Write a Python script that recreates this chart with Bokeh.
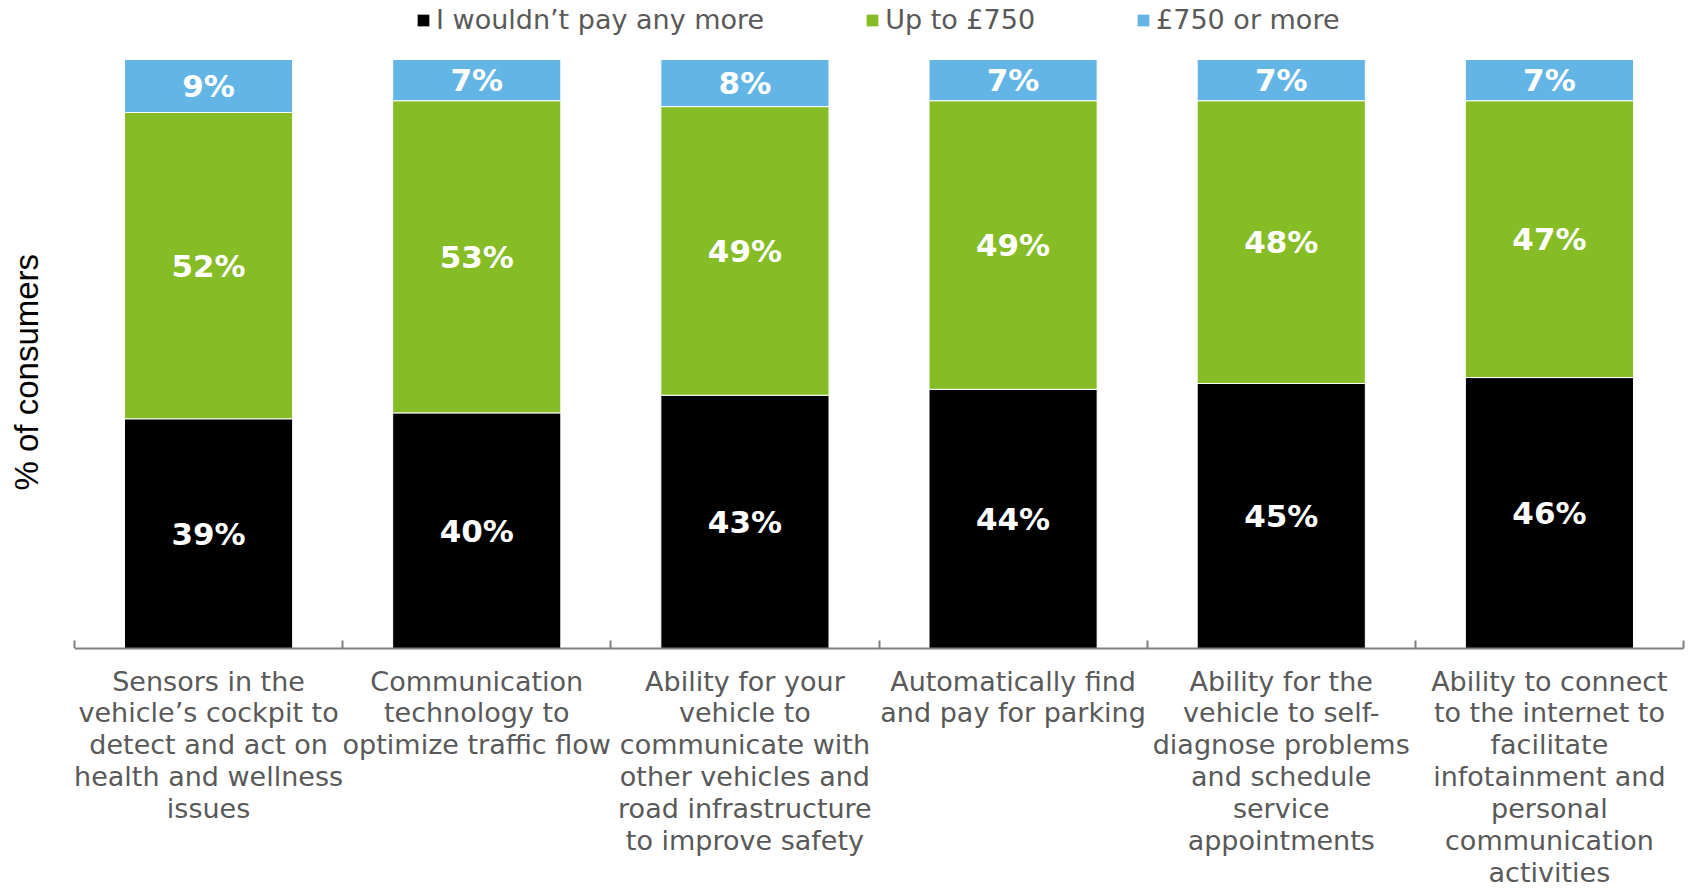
import numpy as np
from bokeh.plotting import figure
from bokeh.models import ColumnDataSource, Range1d, FixedTicker, Legend, LegendItem, Title
from bokeh.core.properties import value
from bokeh.embed import file_html
from bokeh.resources import INLINE

categories = [
    "Sensors in the\nvehicle\u2019s cockpit to\ndetect and act on\nhealth and wellness\nissues",
    "Communication\ntechnology to\noptimize traffic flow",
    "Ability for your\nvehicle to\ncommunicate with\nother vehicles and\nroad infrastructure\nto improve safety",
    "Automatically find\nand pay for parking",
    "Ability for the\nvehicle to self-\ndiagnose problems\nand schedule\nservice\nappointments",
    "Ability to connect\nto the internet to\nfacilitate\ninfotainment and\npersonal\ncommunication\nactivities",
]
no_more = [39, 40, 43, 44, 45, 46]
up_to_750 = [52, 53, 49, 49, 48, 47]
over_750 = [9, 7, 8, 7, 7, 7]
series_names = ["I wouldn\u2019t pay any more", "Up to \u00a3750", "\u00a3750 or more"]
colors = ["#000000", "#86BC25", "#62B5E5"]
y_title = "% of consumers"

n = len(categories)
xc = np.arange(n) + 0.5
a = np.array(no_more, dtype=float)
b = np.array(up_to_750, dtype=float)
c = np.array(over_750, dtype=float)

src = ColumnDataSource(dict(
    x=xc,
    b0=np.zeros(n), t0=a,
    b1=a, t1=a + b,
    b2=a + b, t2=a + b + c,
    y0=a / 2, y1=a + b / 2, y2=a + b + c / 2,
    l0=[f"{v}%" for v in no_more],
    l1=[f"{v}%" for v in up_to_750],
    l2=[f"{v}%" for v in over_750],
))

# frame spans full top (legend lives inside it); 100% sits 59px below the top
y_top = 100 * 648 / 589
p = figure(width=1688, height=891, output_backend="svg", toolbar_location=None,
           x_range=Range1d(0, n), y_range=Range1d(0, y_top),
           min_border_left=74, min_border_right=5, min_border_top=0, min_border_bottom=243)
p.outline_line_color = None
p.xgrid.grid_line_color = None
p.ygrid.grid_line_color = None
p.background_fill_color = "white"

width = 0.627
renderers = []
for i in range(3):
    r = p.vbar(x="x", bottom=f"b{i}", top=f"t{i}", width=width, source=src,
               fill_color=colors[i], line_color="white", line_width=1)
    renderers.append(r)
    p.text(x="x", y=f"y{i}", text=f"l{i}", source=src, text_align="center",
           text_baseline="middle", text_color="white",
           text_font=value("DejaVu Sans"), text_font_style="bold", text_font_size="31px")

legend = Legend(items=[LegendItem(label=series_names[i], renderers=[renderers[i]]) for i in range(3)],
                orientation="horizontal", location=(341, 613))
legend.label_text_font = "DejaVu Sans"
legend.label_text_font_size = "27px"
legend.label_text_color = "#595959"
legend.glyph_width = 16
legend.glyph_height = 16
legend.label_standoff = 5
legend.spacing = 100
legend.padding = 0
legend.margin = 0
legend.border_line_color = None
legend.background_fill_alpha = 0
p.add_layout(legend, "center")

xa = p.xaxis[0]
xa.ticker = FixedTicker(ticks=list(xc), minor_ticks=list(np.arange(n + 1)))
xa.major_label_overrides = {float(xc[i]): categories[i] for i in range(n)}
xa.major_tick_line_color = None
xa.major_tick_in = 0
xa.major_tick_out = 0
xa.minor_tick_in = 8
xa.minor_tick_out = 0
xa.minor_tick_line_color = "#7F7F7F"
xa.minor_tick_line_width = 2
xa.axis_line_color = "#7F7F7F"
xa.axis_line_width = 2
xa.major_label_standoff = 17
xa.major_label_text_font = "DejaVu Sans"
xa.major_label_text_font_size = "27px"
xa.major_label_text_color = "#595959"
xa.major_label_text_line_height = 1.03

# y axis carries no visible marks; its (white) tick length acts as a spacer before the y title
ya = p.yaxis[0]
ya.ticker = FixedTicker(ticks=[0])
ya.major_label_overrides = {0: ""}
ya.major_label_text_font_size = "1px"
ya.axis_line_color = None
ya.major_tick_line_color = "white"
ya.minor_tick_line_color = None
ya.major_tick_in = 0
ya.major_tick_out = 29
ya.major_label_standoff = 0

p.add_layout(Title(text=y_title, align="left", offset=158, vertical_align="middle",
                   text_font="Liberation Sans", text_font_style="normal",
                   text_font_size="33px", text_color="#000000", standoff=0), "left")

open("out.html", "w").write(file_html(p, INLINE))
